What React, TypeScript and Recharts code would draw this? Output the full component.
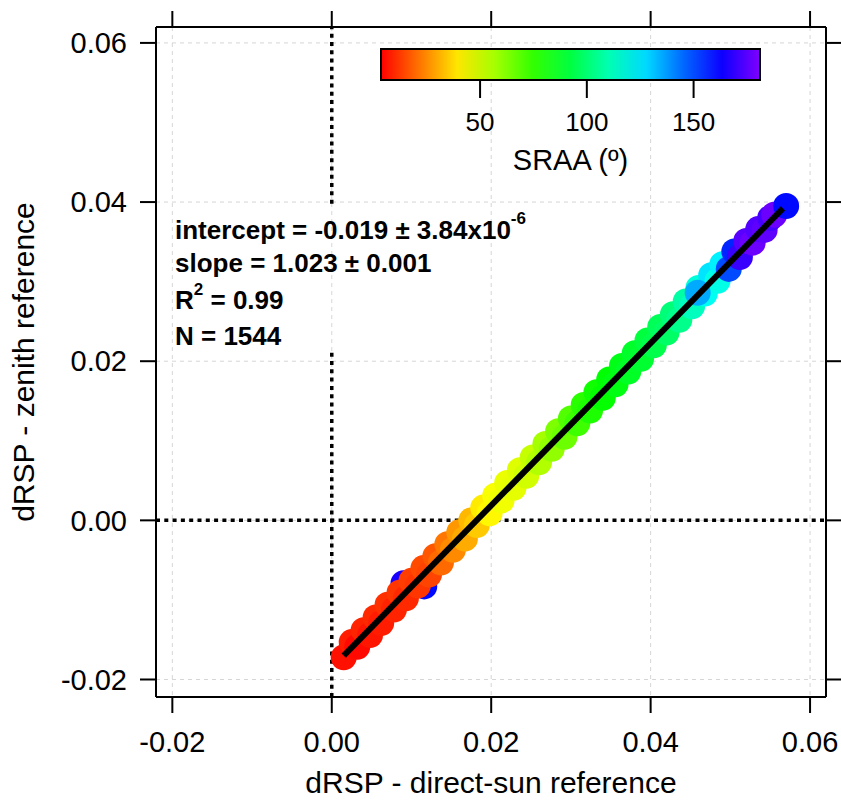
import React from 'react';
import { ScatterChart, Scatter, XAxis, YAxis, CartesianGrid, ReferenceLine } from 'recharts';

// direct-sun dRSP (x), zenith dRSP (y) and SRAA for each plotted point
const xValues = [
  0.0090, 0.0116, 0.0178,
  0.0015, 0.0025, 0.0032, 0.0040, 0.0048, 0.0055, 0.0062, 0.0070, 0.0078, 0.0085,
  0.0093, 0.0100, 0.0108, 0.0115, 0.0122, 0.0130, 0.0137, 0.0145, 0.0152, 0.0160,
  0.0167, 0.0175, 0.0182, 0.0190, 0.0198, 0.0205, 0.0213, 0.0220, 0.0228, 0.0236,
  0.0244, 0.0252, 0.0260, 0.0268, 0.0276, 0.0284, 0.0292, 0.0300, 0.0308, 0.0316,
  0.0324, 0.0332, 0.0340, 0.0348, 0.0356, 0.0364, 0.0372, 0.0380, 0.0388, 0.0396,
  0.0404, 0.0412, 0.0420, 0.0428, 0.0436, 0.0444, 0.0452, 0.0460, 0.0468, 0.0476,
  0.0484, 0.0490, 0.0459, 0.0498, 0.0505, 0.0512, 0.0520, 0.0528, 0.0535, 0.0543,
  0.0550, 0.0555, 0.0570,
];
const yValues = [
  -0.0079, -0.0083, -0.0004,
  -0.0172, -0.0153, -0.0159, -0.0138, -0.0144, -0.0122, -0.0129, -0.0106, -0.0112, -0.0091,
  -0.0098, -0.0076, -0.0082, -0.0060, -0.0068, -0.0045, -0.0053, -0.0030, -0.0037, -0.0015,
  -0.0023, 0.0000, -0.0006, 0.0016, 0.0009, 0.0031, 0.0025, 0.0047, 0.0041, 0.0063,
  0.0056, 0.0079, 0.0073, 0.0096, 0.0090, 0.0112, 0.0105, 0.0128, 0.0122, 0.0145,
  0.0138, 0.0161, 0.0154, 0.0177, 0.0171, 0.0194, 0.0187, 0.0210, 0.0203, 0.0226,
  0.0220, 0.0243, 0.0236, 0.0259, 0.0252, 0.0275, 0.0269, 0.0292, 0.0285, 0.0308,
  0.0301, 0.0322, 0.0286, 0.0316, 0.0338, 0.0331, 0.0351, 0.0349, 0.0366, 0.0365,
  0.0380, 0.0384, 0.0395,
];
const sraaValues = [
  165, 160, 178,
  6, 8, 5, 9, 7, 10, 8, 11, 9, 12,
  10, 13, 12, 15, 14, 17, 20, 22, 25, 27,
  30, 32, 35, 40, 42, 44, 45, 46, 47, 48,
  50, 52, 55, 57, 60, 63, 66, 70, 73, 76,
  78, 80, 82, 83, 85, 86, 88, 89, 90, 92,
  94, 96, 98, 101, 104, 108, 112, 116, 120, 126,
  118, 124, 135, 150, 156, 170, 175, 178, 174, 176,
  172, 178, 160,
];

// least-squares fit line, end points as drawn
const fitX = [0.0015, 0.0566];
const fitY = [-0.0170, 0.0392];

const axisTicks = [-0.02, 0, 0.02, 0.04, 0.06];
const xDomain = [-0.02205, 0.062];
const yDomain = [-0.0222, 0.062];

const sraaTicks = [50, 100, 150];
const sraaDomain = [3.6, 181.1];

const annotation = ['intercept = -0.019 ± 3.84x10', 'slope = 1.023 ± 0.001', '= 0.99', 'N = 1544'];

const points = xValues.map((x, i) => ({ x, y: yValues[i], sraa: sraaValues[i] }));
const fitLine = fitX.map((x, i) => ({ x, y: fitY[i] }));

const FONT = '"Liberation Sans", Arial, Helvetica, sans-serif';

const sraaColor = (v: number) => {
  const t = Math.min(1, Math.max(0, (v - sraaDomain[0]) / (sraaDomain[1] - sraaDomain[0])));
  return `hsl(${270 * t}, 100%, 50%)`;
};

const Dot = (props: any) => {
  const { cx, cy, payload } = props;
  if (cx == null || cy == null) return <g />;
  return <circle cx={cx} cy={cy} r={13} fill={sraaColor(payload.sraa)} />;
};

const ColorBar = () => {
  const left = 381;
  const top = 49;
  const w = 379;
  const h = 31;
  const pos = (v: number) => left + ((v - sraaDomain[0]) / (sraaDomain[1] - sraaDomain[0])) * w;
  const stops = [0, 0.1, 0.2, 0.3, 0.4, 0.5, 0.6, 0.7, 0.8, 0.9, 1];
  return (
    <g>
      <defs>
        <linearGradient id="sraaGrad" x1="0" x2="1" y1="0" y2="0">
          {stops.map((s) => (
            <stop key={s} offset={s} stopColor={`hsl(${270 * s}, 100%, 50%)`} />
          ))}
        </linearGradient>
      </defs>
      <rect x={left} y={top} width={w} height={h} fill="url(#sraaGrad)" stroke="#000" strokeWidth={2} />
      {sraaTicks.map((t) => (
        <g key={t}>
          <line x1={pos(t)} x2={pos(t)} y1={top + h} y2={top + h + 18} stroke="#000" strokeWidth={2} />
          <text x={pos(t)} y={131} textAnchor="middle" fontSize={26} fontFamily={FONT} fill="#000">
            {t}
          </text>
        </g>
      ))}
      <text x={left + w / 2} y={170} textAnchor="middle" fontSize={29} fontFamily={FONT} fill="#000">
        SRAA (º)
      </text>
    </g>
  );
};

const Annotation = () => (
  <g fontFamily={FONT} fontWeight="bold" fontSize={26} fill="#000">
    <text x={175} y={239}>
      {annotation[0]}
      <tspan dy={-15} fontSize={17}>-6</tspan>
    </text>
    <text x={175} y={272}>{annotation[1]}</text>
    <text x={175} y={309}>
      R<tspan dy={-14} fontSize={17}>2</tspan>
      <tspan dy={14}> {annotation[2]}</tspan>
    </text>
    <text x={175} y={345}>{annotation[3]}</text>
  </g>
);

const tickStyle = { fontSize: 29, fill: '#000', fontFamily: FONT };
const axisLine = { stroke: '#000', strokeWidth: 2 };
const tickLine = { stroke: '#000', strokeWidth: 2 };

export default function App() {
  return (
    <div style={{ position: 'absolute', left: 0, top: 0, width: 841, height: 800, background: '#fff' }}>
      <ScatterChart width={841} height={800} margin={{ top: 0, right: 0, bottom: 0, left: 0 }}>
        <CartesianGrid stroke="#d6d6d6" strokeDasharray="4 4" verticalValues={axisTicks} horizontalValues={axisTicks} />
        <XAxis
          type="number"
          dataKey="x"
          domain={xDomain}
          ticks={axisTicks}
          allowDataOverflow
          height={103}
          tickSize={16}
          tickMargin={18}
          tick={tickStyle}
          axisLine={axisLine}
          tickLine={tickLine}
          tickFormatter={(v: number) => v.toFixed(2)}
          label={{ value: 'dRSP - direct-sun reference', position: 'insideBottom', offset: 7, fontSize: 30, fill: '#000', fontFamily: FONT }}
        />
        <XAxis
          xAxisId="top"
          orientation="top"
          type="number"
          dataKey="x"
          domain={xDomain}
          ticks={axisTicks}
          allowDataOverflow
          height={27}
          tickSize={16}
          axisLine={axisLine}
          tickLine={tickLine}
          tickFormatter={() => ''}
        />
        <YAxis
          type="number"
          dataKey="y"
          domain={yDomain}
          ticks={axisTicks}
          allowDataOverflow
          width={156}
          tickSize={16}
          tickMargin={13}
          tick={tickStyle}
          axisLine={axisLine}
          tickLine={tickLine}
          tickFormatter={(v: number) => v.toFixed(2)}
          label={{ value: 'dRSP - zenith reference', angle: -90, position: 'insideLeft', offset: 23, fontSize: 30, fill: '#000', fontFamily: FONT, style: { textAnchor: 'middle' } }}
        />
        <YAxis
          yAxisId="right"
          orientation="right"
          type="number"
          dataKey="y"
          domain={yDomain}
          ticks={axisTicks}
          allowDataOverflow
          width={15}
          tickSize={16}
          axisLine={axisLine}
          tickLine={tickLine}
          tickFormatter={() => ''}
        />
        <ReferenceLine y={0} stroke="#000" strokeWidth={3.5} strokeDasharray="4 4.3" />
        <ReferenceLine segment={[{ x: 0, y: yDomain[0] }, { x: 0, y: 0.0213 }]} stroke="#000" strokeWidth={3.5} strokeDasharray="4 4.3" />
        <ReferenceLine segment={[{ x: 0, y: 0.0398 }, { x: 0, y: yDomain[1] }]} stroke="#000" strokeWidth={3.5} strokeDasharray="4 4.3" />
        <Scatter data={points} shape={Dot} isAnimationActive={false} />
        <Scatter data={fitLine} line={{ stroke: '#000', strokeWidth: 6 }} shape={() => <g />} isAnimationActive={false} />
      </ScatterChart>
      <svg width={841} height={800} style={{ position: 'absolute', left: 0, top: 0, pointerEvents: 'none' }}>
        <ColorBar />
        <Annotation />
      </svg>
    </div>
  );
}
